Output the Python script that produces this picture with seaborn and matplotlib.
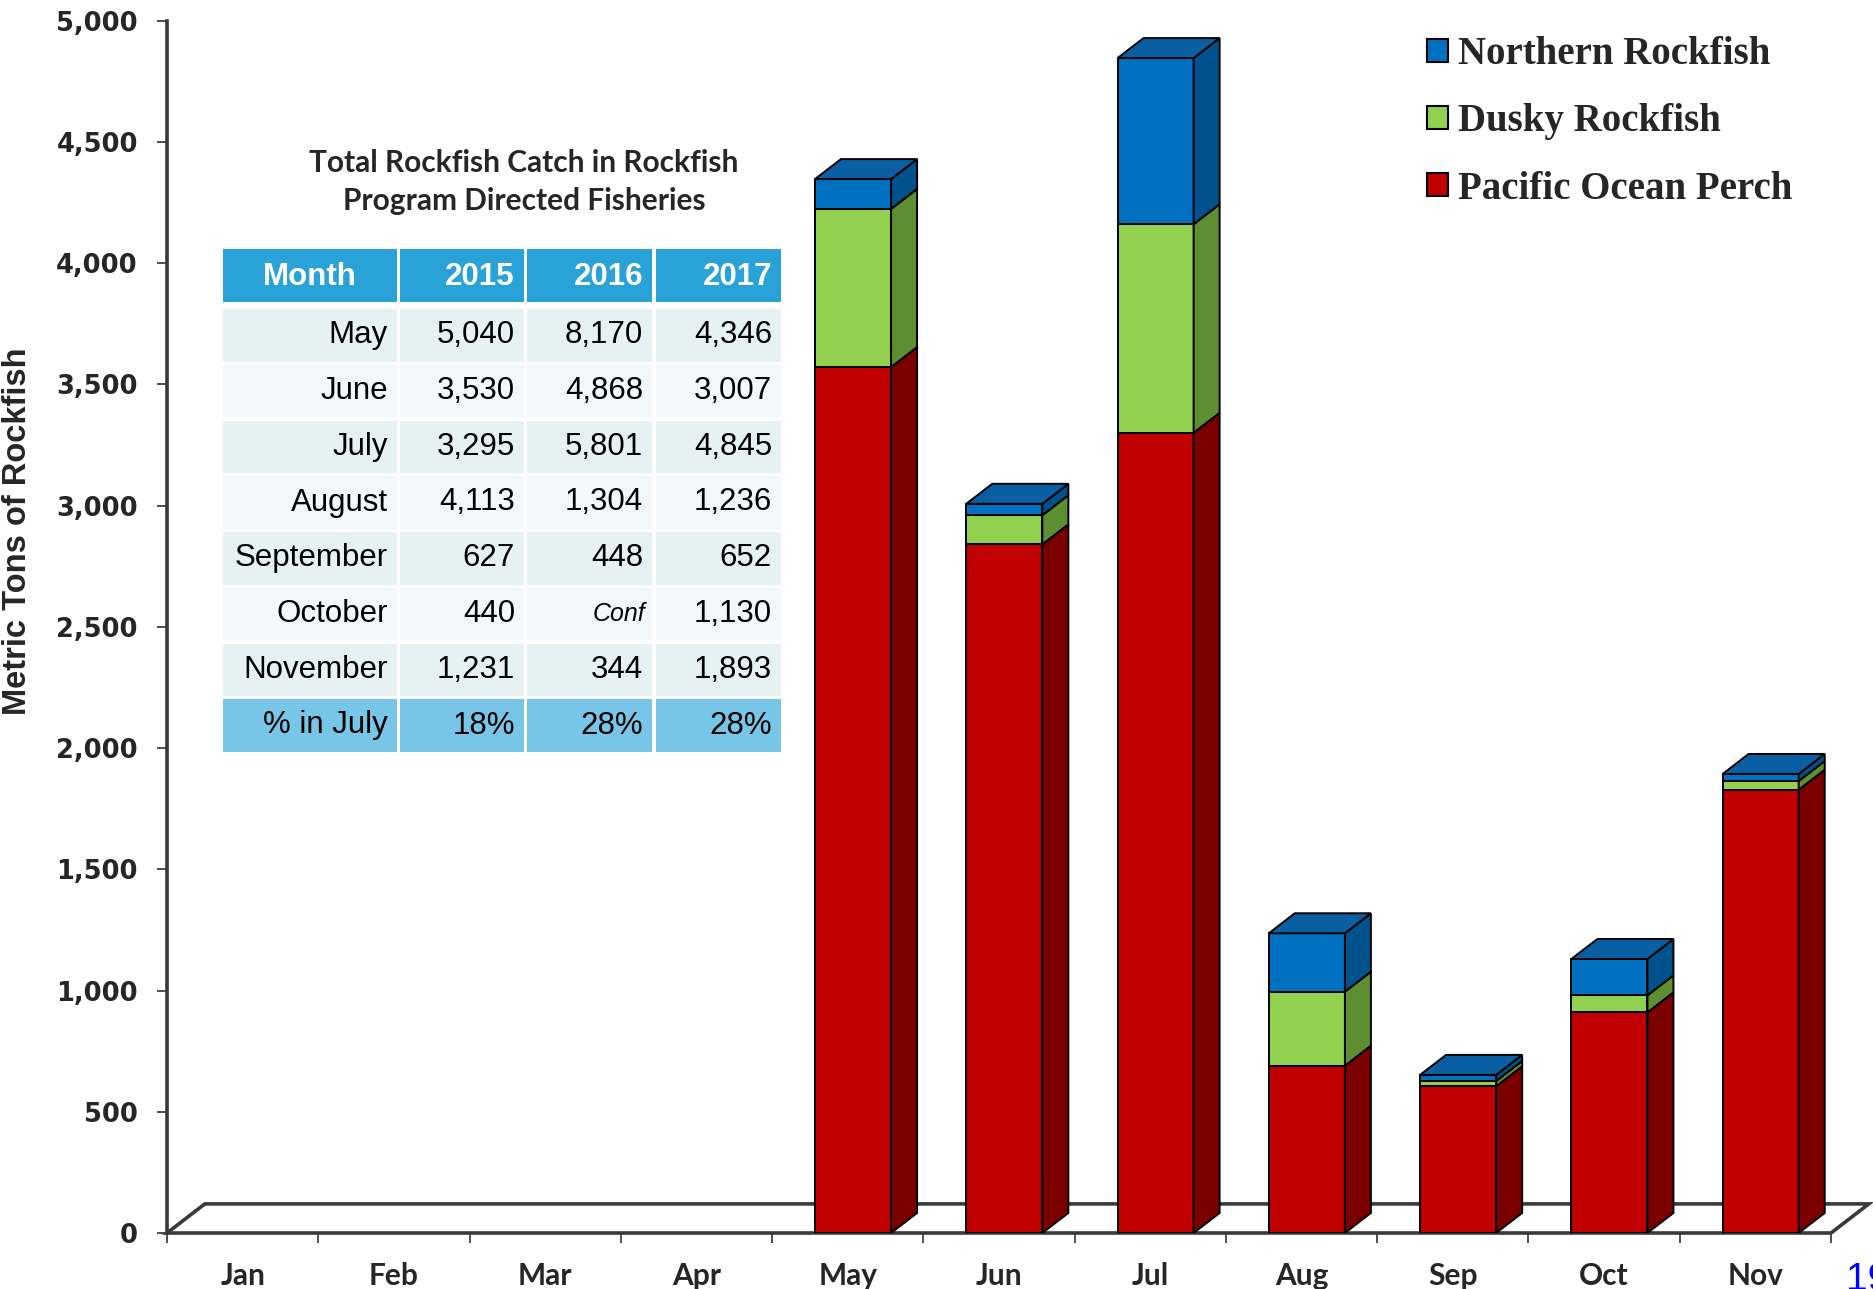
import matplotlib.pyplot as plt
import matplotlib.patches as mpatches
import seaborn as sns
import numpy as np

sns.set_style("white")
plt.rcParams['font.family'] = ['DejaVu Sans']

# 2017 catch by month (metric tons)
months = ['Jan', 'Feb', 'Mar', 'Apr', 'May', 'Jun', 'Jul', 'Aug', 'Sep', 'Oct', 'Nov']
pop = [0, 0, 0, 0, 3571, 2840, 3300, 690, 605, 910, 1828]
dusky = [0, 0, 0, 0, 652, 120, 860, 305, 22, 70, 36]
northern = [0, 0, 0, 0, 123, 47, 685, 241, 25, 150, 29]

series_names = ['Pacific Ocean Perch', 'Dusky Rockfish', 'Northern Rockfish']
front_colors = ['#C00000', '#92D050', '#0070C0']
side_colors = ['#7A0000', '#5E8E32', '#00518C']
top_colors = ['#A00000', '#7AB040', '#0A5FA3']

# inset table
table_title = 'Total Rockfish Catch in Rockfish\nProgram Directed Fisheries'
table_header = ['Month', '2015', '2016', '2017']
table_months = ['May', 'June', 'July', 'August', 'September', 'October', 'November']
catch_2015 = ['5,040', '3,530', '3,295', '4,113', '627', '440', '1,231']
catch_2016 = ['8,170', '4,868', '5,801', '1,304', '448', 'Conf', '344']
catch_2017 = ['4,346', '3,007', '4,845', '1,236', '652', '1,130', '1,893']
pct_july = ['% in July', '18%', '28%', '28%']

W, H = 1874, 1289
fig = plt.figure(figsize=(W / 100, H / 100), dpi=100)
ax = fig.add_axes([167 / W, 1 - 1233 / H, (1831 - 167) / W, (1233 - 20.5) / H])

n = len(months)
x = np.arange(n)
bar_w = 0.503
shift = 0.035
ddx, ddy = 0.172, 82.5      # bar depth
fdx, fdy = 0.25, 120        # floor depth

# floor
floor = mpatches.Polygon([(-0.5, 0), (n - 0.5, 0), (n - 0.5 + fdx, fdy), (-0.5 + fdx, fdy)],
                         closed=True, facecolor='white', edgecolor='#3a3a3a', lw=2.6,
                         clip_on=False, zorder=1)
ax.add_patch(floor)

layers = [np.array(pop), np.array(dusky), np.array(northern)]
has_bar = (np.array(pop) + np.array(dusky) + np.array(northern)) > 0
xb = x[has_bar] + shift
bottoms = np.zeros(n)
for k, vals in enumerate(layers):
    ax.bar(xb, vals[has_bar], width=bar_w, bottom=bottoms[has_bar], color=front_colors[k],
           edgecolor='black', linewidth=1.4, zorder=3)
    for i in range(n):
        if vals[i] <= 0:
            continue
        x1 = x[i] + shift + bar_w / 2
        b, t = bottoms[i], bottoms[i] + vals[i]
        side = mpatches.Polygon([(x1, b), (x1 + ddx, b + ddy), (x1 + ddx, t + ddy), (x1, t)],
                                closed=True, facecolor=side_colors[k], edgecolor='black',
                                lw=1.4, zorder=3)
        ax.add_patch(side)
    bottoms = bottoms + vals

totals = bottoms
for i in range(n):
    if totals[i] <= 0:
        continue
    x0 = x[i] + shift - bar_w / 2
    x1 = x0 + bar_w
    t = totals[i]
    top = mpatches.Polygon([(x0, t), (x1, t), (x1 + ddx, t + ddy), (x0 + ddx, t + ddy)],
                           closed=True, facecolor=top_colors[2], edgecolor='black',
                           lw=1.4, zorder=3)
    ax.add_patch(top)

ax.set_xlim(-0.5, n - 0.5)
ax.set_ylim(0, 5000)
ax.set_yticks(np.arange(0, 5001, 500))
ax.set_yticklabels([f'{v:,}' for v in range(0, 5001, 500)],
                   fontsize=18.5, fontweight='bold', family='DejaVu Sans')
ax.tick_params(axis='y', direction='out', length=7, width=1.3, color='#404040', pad=14, left=True)

ax.set_xticks(x)
ax.set_xticklabels(months, fontsize=21.5, fontweight='bold', family='Lato')
ax.set_xticks(np.arange(-0.5, n, 1), minor=True)
ax.tick_params(axis='x', which='major', length=0, pad=21)
ax.tick_params(axis='x', which='minor', direction='out', length=7, width=1.3,
               color='#404040', bottom=True)

for s in ['top', 'right', 'bottom']:
    ax.spines[s].set_visible(False)
ax.spines['left'].set_color('#3a3a3a')
ax.spines['left'].set_linewidth(2.6)

fig.text(18 / W, 1 - 531 / H, 'Metric Tons of Rockfish', rotation=90, ha='center', va='center',
         fontsize=23.5, fontweight='bold', family='Liberation Sans')

# legend
handles = [mpatches.Patch(facecolor=front_colors[k], edgecolor='black', lw=1.5) for k in [2, 1, 0]]
labels = [series_names[k] for k in [2, 1, 0]]
fig.legend(handles, labels, loc='upper left', bbox_to_anchor=(1427 / W, 1 - 36 / H),
           frameon=False, handlelength=0.54, handleheight=0.54, handletextpad=0.25,
           labelspacing=0.78, borderpad=0, borderaxespad=0,
           prop={'family': 'Liberation Serif', 'weight': 'bold', 'size': 28})

# overlay in pixel coordinates for the table and page number
ov = fig.add_axes([0, 0, 1, 1])
ov.set_xlim(0, W)
ov.set_ylim(H, 0)
ov.axis('off')
ov.patch.set_visible(False)

ov.text(524, 182, table_title, ha='center', va='center', fontsize=21.5, fontweight='bold',
        family='Lato', linespacing=1.45)

cols = [(223, 397), (400, 524), (527, 652), (656, 781)]
header_blue = '#29A3D7'
pct_blue = '#78C6E7'
row_bg = ['#E6F1F3', '#F2F7FA']
pad = 9

def cell(col, y0, y1, color):
    c0, c1 = cols[col]
    ov.add_patch(mpatches.Rectangle((c0, y0), c1 - c0, y1 - y0, facecolor=color, lw=0))

for c in range(4):
    cell(c, 249, 302, header_blue)
    c0, c1 = cols[c]
    if c == 0:
        ov.text((c0 + c1) / 2, 277, table_header[c], ha='center', va='center', color='white',
                fontsize=22.5, fontweight='bold', family='Liberation Sans')
    else:
        ov.text(c1 - pad, 277, table_header[c], ha='right', va='center', color='white',
                fontsize=22.5, fontweight='bold', family='Liberation Sans')

pitch = 55.75
rows = list(zip(table_months, catch_2015, catch_2016, catch_2017))
for r, row in enumerate(rows):
    y0 = 309 + r * pitch
    y1 = y0 + 52.5
    for c in range(4):
        cell(c, y0, y1, row_bg[r % 2])
        c1 = cols[c][1]
        if row[c] == 'Conf':
            ov.text(c1 - pad + 2, (y0 + y1) / 2, row[c], ha='right', va='center', color='black',
                    fontsize=18, style='italic', family='Liberation Sans')
        else:
            ov.text(c1 - pad, (y0 + y1) / 2, row[c], ha='right', va='center', color='black',
                    fontsize=22.5, family='Liberation Sans')

y0 = 309 + len(rows) * pitch
y1 = y0 + 52.5
for c in range(4):
    cell(c, y0, y1, pct_blue)
    ov.text(cols[c][1] - pad, (y0 + y1) / 2, pct_july[c], ha='right', va='center', color='black',
            fontsize=22.5, family='Liberation Sans')

# page number, partly cut off at the corner as in the source slide
ov.text(1846, 1290, '19', ha='left', va='baseline', color='#0000FF', fontsize=28,
        family='Liberation Sans')

fig.savefig('out.png', dpi=100)
